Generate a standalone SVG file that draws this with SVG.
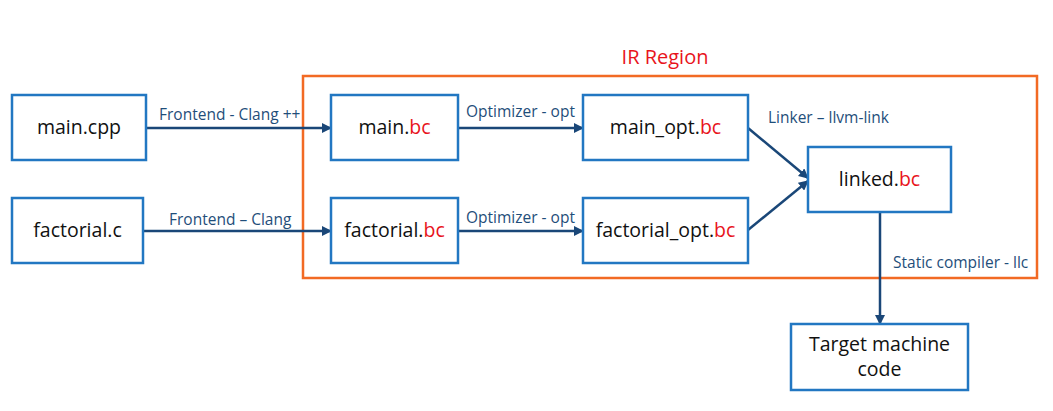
<svg xmlns="http://www.w3.org/2000/svg" width="1053" height="411" viewBox="0 0 1053 411">
<style>
.box{fill:#fff;stroke:#2277c2;stroke-width:2.5}
.nt{font-family:"Open Sans","Noto Sans",sans-serif;font-size:19.5px;fill:#111;text-anchor:middle}
.red{fill:#e8141c}
.lbl{font-family:"Open Sans","Noto Sans",sans-serif;font-size:15.5px;fill:#1f4e7a}
.con{stroke:#1a4778;stroke-width:2.5;fill:none;marker-end:url(#ah)}
</style>
<defs>
<marker id="ah" viewBox="0 0 10 10" refX="9" refY="5" markerWidth="4" markerHeight="4" orient="auto" markerUnits="strokeWidth">
<path d="M0,0 L10,5 L0,10 z" fill="#1a4778"/>
</marker>
</defs>
<rect width="1053" height="411" fill="#fff"/>
<g id="ir-region">
<rect x="303" y="76" width="734" height="202" fill="none" stroke="#f26a24" stroke-width="2.5"/>
<text x="665" y="64" font-family="'Open Sans','Noto Sans',sans-serif" font-size="20" fill="#e8141c" text-anchor="middle">IR Region</text>
</g>
<g id="connectors">
<line class="con" x1="146" y1="128" x2="331" y2="128"/>
<line class="con" x1="143" y1="231" x2="331" y2="231"/>
<line class="con" x1="458" y1="128" x2="583" y2="128"/>
<line class="con" x1="458" y1="231" x2="583" y2="231"/>
<line class="con" x1="748" y1="128" x2="808" y2="178"/>
<line class="con" x1="748" y1="230" x2="808" y2="181"/>
<line class="con" x1="880" y1="212" x2="880" y2="324"/>
<text class="lbl" x="159" y="120">Frontend - Clang ++</text>
<text class="lbl" x="169" y="225">Frontend – Clang</text>
<text class="lbl" x="466" y="117">Optimizer - opt</text>
<text class="lbl" x="466" y="223">Optimizer - opt</text>
<text class="lbl" x="768" y="123">Linker – llvm-link</text>
<text class="lbl" x="893" y="268">Static compiler - llc</text>
</g>
<g id="main-cpp">
<rect class="box" x="12" y="95" width="134" height="65"/>
<text class="nt" x="79" y="134">main.cpp</text>
</g>
<g id="factorial-c">
<rect class="box" x="12" y="198" width="131" height="65"/>
<text class="nt" x="77.5" y="237">factorial.c</text>
</g>
<g id="main-bc">
<rect class="box" x="331" y="95" width="127" height="65"/>
<text class="nt" x="394.5" y="134">main.<tspan class="red">bc</tspan></text>
</g>
<g id="factorial-bc">
<rect class="box" x="331" y="198" width="127" height="65"/>
<text class="nt" x="394.5" y="237">factorial.<tspan class="red">bc</tspan></text>
</g>
<g id="main-opt-bc">
<rect class="box" x="583" y="95" width="165" height="65"/>
<text class="nt" x="665.5" y="134">main_opt.<tspan class="red">bc</tspan></text>
</g>
<g id="factorial-opt-bc">
<rect class="box" x="583" y="198" width="165" height="65"/>
<text class="nt" x="665.5" y="237">factorial_opt.<tspan class="red">bc</tspan></text>
</g>
<g id="linked-bc">
<rect class="box" x="808" y="147" width="143" height="65"/>
<text class="nt" x="879.5" y="186">linked.<tspan class="red">bc</tspan></text>
</g>
<g id="target">
<rect class="box" x="791" y="324" width="177" height="66"/>
<text class="nt" x="879.5" y="351">Target machine</text>
<text class="nt" x="879.5" y="376">code</text>
</g>
</svg>
